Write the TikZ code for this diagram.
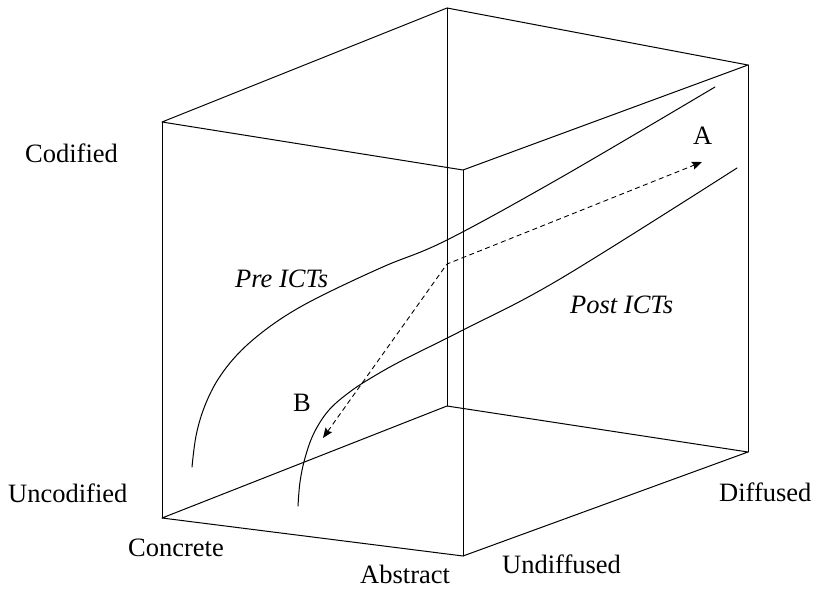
\documentclass[tikz,border=0pt]{standalone}
\usepackage{fontspec}
\setmainfont{Liberation Serif}
\usetikzlibrary{arrows.meta}
\begin{document}
\begin{tikzpicture}[x=1pt, y=-1pt,
  edge/.style={line width=1pt, line join=round, line cap=round},
  trend/.style={line width=1pt, line cap=round},
  move/.style={line width=0.9pt, dash pattern=on 5pt off 3.5pt,
    {Stealth[length=10pt, width=8pt, inset=1.5pt]}-{Stealth[length=10pt, width=8pt, inset=1.5pt]}},
  lab/.style={anchor=base west, inner sep=0pt, font=\fontsize{26.5}{30}\selectfont},
  ilab/.style={lab, font=\fontsize{26.5}{30}\selectfont\itshape}]
\useasboundingbox (0,0) rectangle (815,589);

% corners of the cube
\coordinate (TL) at (162,122);
\coordinate (FT) at (463,170);
\coordinate (BT) at (447,8);
\coordinate (RT) at (748,65);
\coordinate (BL) at (162,518);
\coordinate (FB) at (463,556);
\coordinate (BB) at (447,406);
\coordinate (BR) at (748,452);

% top face
\draw[edge] (TL) -- (BT) -- (RT) -- (FT) -- cycle;
% bottom face
\draw[edge] (BL) -- (BB) -- (BR) -- (FB) -- cycle;
% vertical edges
\draw[edge] (TL) -- (BL);
\draw[edge] (FT) -- (FB);
\draw[edge] (BT) -- (BB);
\draw[edge] (RT) -- (BR);

% trajectories
\draw[trend] plot[smooth, tension=0.6] coordinates {
  (192,467) (196,436) (204,408) (217,381) (236,356) (260,334) (290,313)
  (327,293) (385,266) (447,240) (560,178) (715,87)};
\draw[trend] plot[smooth, tension=0.6] coordinates {
  (298,506) (300,482) (305,458) (314,433) (329,410) (351,391) (376,375)
  (405,359) (463,330) (560,279) (737,168)};

% movement between B and A
\coordinate (ptB) at (323,438);
\coordinate (bend) at (447,264);
\coordinate (ptA) at (702,162);
\draw[move] (ptB) -- (bend) -- (ptA);

% labels
\node[lab] (codified) at (25,162) {Codified};
\node[lab] (uncodified) at (8,502) {Uncodified};
\node[lab] (concrete) at (128,556) {Concrete};
\node[lab] (abstract) at (360,583) {Abstract};
\node[lab] (undiffused) at (502,573) {Undiffused};
\node[lab] (diffused) at (719,501) {Diffused};
\node[lab] (labA) at (693,144) {A};
\node[lab] (labB) at (293,411) {B};
\node[ilab] (pre) at (235,287) {Pre ICTs};
\node[ilab] (post) at (570,313) {Post ICTs};
\end{tikzpicture}
\end{document}
